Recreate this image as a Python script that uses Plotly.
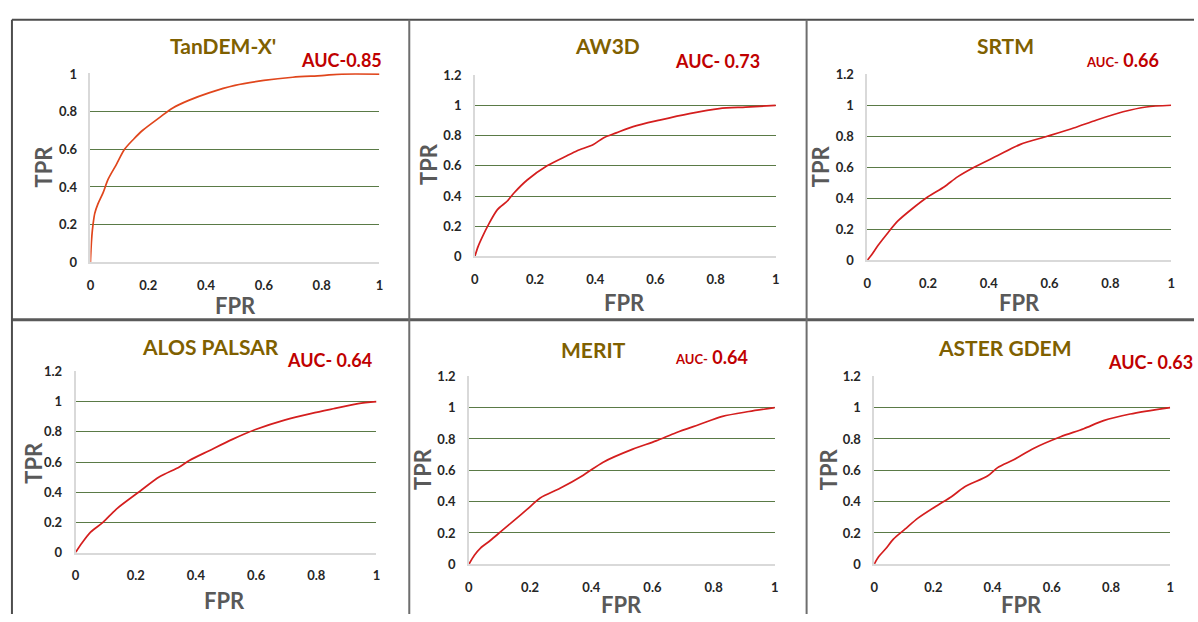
import plotly.graph_objects as go

W, H = 1198, 622

# ---------------- data ----------------
titles = ["TanDEM-X'", "AW3D", "SRTM", "ALOS PALSAR", "MERIT", "ASTER GDEM"]
auc_values = ["0.85", "0.73", "0.66", "0.64", "0.64", "0.63"]

x_ticks = [0, 0.2, 0.4, 0.6, 0.8, 1]
x_tick_labels = ["0", "0.2", "0.4", "0.6", "0.8", "1"]
y_ticks_short = [0, 0.2, 0.4, 0.6, 0.8, 1]
y_tick_labels_short = ["0", "0.2", "0.4", "0.6", "0.8", "1"]
y_ticks_long = [0, 0.2, 0.4, 0.6, 0.8, 1, 1.2]
y_tick_labels_long = ["0", "0.2", "0.4", "0.6", "0.8", "1", "1.2"]

fpr_tandem = [0, 0.002, 0.005, 0.009, 0.015, 0.026, 0.044, 0.061, 0.09, 0.118, 0.15, 0.18,
              0.24, 0.285, 0.34, 0.41, 0.50, 0.60, 0.70, 0.80, 0.87, 1.0]
tpr_tandem = [0, 0.07, 0.14, 0.20, 0.26, 0.31, 0.37, 0.44, 0.52, 0.60, 0.655, 0.70,
              0.77, 0.82, 0.86, 0.90, 0.94, 0.966, 0.983, 0.992, 1.0, 1.0]

fpr_aw3d = [0, 0.011, 0.025, 0.044, 0.075, 0.108, 0.13, 0.174, 0.24, 0.306, 0.34, 0.394,
            0.427, 0.47, 0.526, 0.614, 0.713, 0.812, 0.90, 1.0]
tpr_aw3d = [0, 0.067, 0.13, 0.206, 0.31, 0.367, 0.42, 0.506, 0.60, 0.667, 0.70, 0.742,
            0.785, 0.818, 0.86, 0.903, 0.946, 0.979, 0.989, 1.0]

fpr_srtm = [0, 0.014, 0.036, 0.069, 0.101, 0.145, 0.2, 0.254, 0.297, 0.352, 0.428, 0.504,
            0.592, 0.679, 0.755, 0.842, 0.918, 1.0]
tpr_srtm = [0, 0.034, 0.097, 0.18, 0.254, 0.328, 0.41, 0.475, 0.538, 0.60, 0.674, 0.748,
            0.80, 0.853, 0.905, 0.958, 0.989, 1.0]

fpr_alos = [0, 0.02, 0.05, 0.091, 0.135, 0.213, 0.279, 0.345, 0.378, 0.444, 0.521, 0.598,
            0.697, 0.785, 0.862, 0.939, 1.0]
tpr_alos = [0, 0.06, 0.136, 0.20, 0.287, 0.405, 0.502, 0.567, 0.61, 0.675, 0.75, 0.815,
            0.879, 0.922, 0.955, 0.987, 1.0]

fpr_merit = [0, 0.018, 0.038, 0.07, 0.108, 0.146, 0.19, 0.233, 0.298, 0.374, 0.439, 0.536,
             0.612, 0.677, 0.753, 0.829, 0.915, 1.0]
tpr_merit = [0, 0.058, 0.104, 0.152, 0.215, 0.277, 0.35, 0.423, 0.485, 0.569, 0.652, 0.735,
             0.7875, 0.84, 0.892, 0.944, 0.975, 1.0]

fpr_aster = [0, 0.015, 0.039, 0.065, 0.104, 0.149, 0.216, 0.261, 0.305, 0.384, 0.417, 0.473,
             0.54, 0.63, 0.708, 0.775, 0.865, 1.0]
tpr_aster = [0, 0.048, 0.099, 0.161, 0.224, 0.296, 0.379, 0.431, 0.493, 0.565, 0.617, 0.669,
             0.741, 0.814, 0.865, 0.917, 0.959, 1.0]

fprs = [fpr_tandem, fpr_aw3d, fpr_srtm, fpr_alos, fpr_merit, fpr_aster]
tprs = [tpr_tandem, tpr_aw3d, tpr_srtm, tpr_alos, tpr_merit, tpr_aster]

# ---------------- layout / style ----------------
FONT = "Lato, 'Open Sans', 'Liberation Sans', sans-serif"
TITLE_COLOR = "#7F6000"
AUC_COLOR = "#C00000"
AXIS_TITLE_COLOR = "#595959"
GRID_COLOR = "#5A7A46"
LINE_COLORS = ["#E0461C", "#D41E1E", "#D41E1E", "#D41E1E", "#D41E1E", "#D41E1E"]

# plot rectangles in pixels: left, right, top, bottom
rects = [(87, 378, 67, 261), (474, 777, 69, 255), (869, 1175, 68, 259),
         (72, 375, 373, 559), (468, 776, 378, 571), (876, 1174, 378, 571)]
# title, auc, TPR label, FPR label positions (pixels, centre)
title_pos = [(220, 38), (608, 39), (1008, 38), (208, 347), (593, 351), (1008, 348)]
auc_pos = [(340, 53), (718, 54), (1126, 53), (328, 361), (712, 358), (1154, 363)]
auc_small_prefix = [False, False, True, False, True, False]
auc_sep = ["", " ", " ", " ", " ", " "]
tpr_pos = [(40, 163), (428, 160), (822, 163), (30, 467), (422, 473), (830, 473)]
fpr_pos = [(233, 305), (625, 302), (1022, 302), (222, 608), (622, 612), (1024, 612)]


def px(x):
    return x / W


def py(y):
    return 1 - y / H


fig = go.Figure()
layout = dict(
    width=W, height=H, margin=dict(l=0, r=0, t=0, b=0),
    paper_bgcolor="white", plot_bgcolor="white", showlegend=False,
    font=dict(family=FONT, color="#262626"),
)
annotations = []
shapes = []

for i in range(6):
    n = "" if i == 0 else str(i + 1)
    l, r, t, b = rects[i]
    fig.add_trace(go.Scatter(
        x=fprs[i], y=tprs[i], mode="lines",
        line=dict(color=LINE_COLORS[i], width=1.7, shape="spline", smoothing=0.8),
        xaxis="x" + n, yaxis="y" + n, hoverinfo="skip",
    ))
    short = i == 0
    layout["xaxis" + n] = dict(
        domain=[px(l), px(r)], anchor="y" + n, range=[0, 1.0],
        tickvals=x_ticks, ticktext=x_tick_labels, showgrid=False, zeroline=False,
        showline=True, linecolor="#D9D9D9", linewidth=1.5, ticks="",
        ticklabelstandoff=10,
        tickfont=dict(family=FONT, size=13, color="#262626", weight="bold"),
    )
    layout["yaxis" + n] = dict(
        domain=[py(b), py(t)], anchor="x" + n,
        range=[0, 1.004] if short else [0, 1.2],
        tickvals=y_ticks_short if short else y_ticks_long,
        ticktext=y_tick_labels_short if short else y_tick_labels_long,
        showgrid=True, gridcolor=GRID_COLOR, gridwidth=1, zeroline=False,
        showline=True, linecolor="#D9D9D9", linewidth=1.5, ticks="",
        ticklabelstandoff=9,
        tickfont=dict(family=FONT, size=13, color="#262626", weight="bold"),
    )
    annotations.append(dict(
        x=px(title_pos[i][0]), y=py(title_pos[i][1]), xref="paper", yref="paper",
        text="<b>%s</b>" % titles[i], showarrow=False, xanchor="center", yanchor="middle",
        font=dict(family=FONT, size=21, color=TITLE_COLOR),
    ))
    if auc_small_prefix[i]:
        auc_text = "<b><span style='font-size:13px'>AUC-</span>%s%s</b>" % (auc_sep[i], auc_values[i])
    else:
        auc_text = "<b>AUC-%s%s</b>" % (auc_sep[i], auc_values[i])
    annotations.append(dict(
        x=px(auc_pos[i][0]), y=py(auc_pos[i][1]), xref="paper", yref="paper",
        text=auc_text, showarrow=False, xanchor="center", yanchor="middle",
        font=dict(family=FONT, size=18, color=AUC_COLOR),
    ))
    annotations.append(dict(
        x=px(tpr_pos[i][0]), y=py(tpr_pos[i][1]), xref="paper", yref="paper",
        text="<b>TPR</b>", showarrow=False, textangle=-90, xanchor="center", yanchor="middle",
        font=dict(family=FONT, size=22, color=AXIS_TITLE_COLOR),
    ))
    annotations.append(dict(
        x=px(fpr_pos[i][0]), y=py(fpr_pos[i][1]), xref="paper", yref="paper",
        text="<b>FPR</b>", showarrow=False, xanchor="center", yanchor="middle",
        font=dict(family=FONT, size=22, color=AXIS_TITLE_COLOR),
    ))

# panel frame lines (decoration)
frame = [
    (8, 12, 1198, 12, 2, "#4D4D4D"),
    (8, 320, 1198, 320, 3, "#5A5A5A"),
    (8, 12, 8, 622, 2, "#4D4D4D"),
    (408, 12, 408, 622, 2, "#6E6E6E"),
    (808, 12, 808, 622, 2, "#6E6E6E"),
]
for x0, y0, x1, y1, w, c in frame:
    shapes.append(dict(type="line", xref="paper", yref="paper",
                       x0=px(x0), y0=py(y0), x1=px(x1), y1=py(y1),
                       line=dict(color=c, width=w)))

layout["annotations"] = annotations
layout["shapes"] = shapes
fig.update_layout(**layout)
fig.write_html("out.html")
